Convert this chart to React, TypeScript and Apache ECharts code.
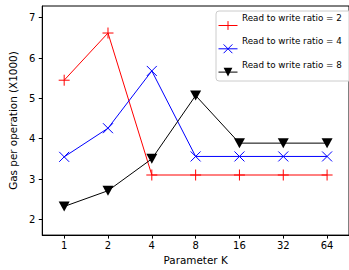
import React, { useEffect, useRef } from "react";
import * as echarts from "echarts";

const categories = ["1", "2", "4", "8", "16", "32", "64"];
const ratio2 = [5.45, 6.62, 3.1, 3.1, 3.1, 3.1, 3.1];
const ratio4 = [3.55, 4.26, 5.68, 3.56, 3.56, 3.56, 3.56];
const ratio8 = [2.32, 2.71, 3.5, 5.07, 3.89, 3.89, 3.89];
const yTicks = [2, 3, 4, 5, 6, 7];
const seriesNames = [
  "Read to write ratio = 2",
  "Read to write ratio = 4",
  "Read to write ratio = 8",
];

const PLUS = "path://M5,0L5,10M0,5L10,5";
const CROSS = "path://M0,0L10,10M10,0L0,10";
const TRI = "path://M0,0L10,0L5,9Z";

export default function App() {
  const ref = useRef<HTMLDivElement>(null);
  useEffect(() => {
    const chart = echarts.init(ref.current!, null, { renderer: "svg" });
    const font = "DejaVu Sans";
    const mk = (vals: number[]) => vals.map((v, i) => [i, v]);
    const legendCommon = {
      orient: "vertical",
      left: 216,
      itemGap: 9.3,
      itemWidth: 19,
      data: seriesNames,
    };
    chart.setOption({
      animation: false,
      textStyle: { fontFamily: font },
      grid: {
        left: 42,
        top: 6,
        width: 313,
        bottom: 31,
        show: true,
        borderColor: "#000",
        borderWidth: 1,
      },
      xAxis: {
        type: "value",
        min: -0.5,
        max: 6.5,
        name: "Parameter K",
        nameLocation: "middle",
        nameGap: 12,
        nameTextStyle: { fontSize: 10.4, color: "#000", fontFamily: font, verticalAlign: "top" },
        axisLine: { show: true, onZero: false, lineStyle: { color: "#000", width: 1 } },
        axisTick: {
          show: true,
          length: 3.5,
          lineStyle: { color: "#000" },
          customValues: categories.map((_, i) => i),
        },
        axisLabel: {
          fontSize: 10,
          color: "#000",
          fontFamily: font,
          margin: 5,
          customValues: categories.map((_, i) => i),
          formatter: (v: number) => categories[Math.round(v)] ?? "",
        },
        splitLine: { show: false },
      },
      yAxis: {
        type: "value",
        min: 1.61,
        max: 7.29,
        name: "Gas per operation (X1000)",
        nameLocation: "middle",
        nameGap: 15,
        nameTextStyle: { fontSize: 10.4, color: "#000", fontFamily: font },
        axisLine: { show: true, onZero: false, lineStyle: { color: "#000", width: 1 } },
        axisTick: {
          show: true,
          length: 3.5,
          lineStyle: { color: "#000" },
          customValues: yTicks,
        },
        axisLabel: {
          fontSize: 10,
          color: "#000",
          fontFamily: font,
          margin: 7,
          customValues: yTicks,
          formatter: (v: number) => String(Math.round(v)),
        },
        splitLine: { show: false },
      },
      legend: [
        {
          ...legendCommon,
          id: "legendText",
          top: 11,
          itemHeight: 14,
          padding: [0, 12, 9.4, 2],
          borderColor: "#cccccc",
          borderWidth: 1,
          borderRadius: 3,
          backgroundColor: "rgba(255,255,255,0.8)",
          icon: "rect",
          itemStyle: { color: "rgba(0,0,0,0)", borderWidth: 0, opacity: 0 },
          lineStyle: { opacity: 0 },
          textStyle: {
            fontSize: 8.75,
            fontFamily: font,
            color: "#000",
            lineHeight: 14,
          },
        },
        {
          ...legendCommon,
          id: "legendIcons",
          top: 18.5,
          itemHeight: 11,
          padding: [0, 0, 0, 2],
          formatter: () => " ",
          lineStyle: { width: 1 },
          itemStyle: { borderWidth: 1 },
          textStyle: { fontSize: 8.75, fontFamily: font, lineHeight: 14 },
        },
      ],
      series: [
        {
          name: seriesNames[0],
          type: "line",
          data: mk(ratio2),
          symbol: PLUS,
          symbolSize: 11,
          lineStyle: { color: "#ff0000", width: 1 },
          itemStyle: { color: "#ff0000", borderColor: "#ff0000", borderWidth: 1 },
          z: 2,
        },
        {
          name: seriesNames[1],
          type: "line",
          data: mk(ratio4),
          symbol: CROSS,
          symbolSize: 10,
          lineStyle: { color: "#0000ff", width: 1 },
          itemStyle: { color: "#0000ff", borderColor: "#0000ff", borderWidth: 1 },
          z: 3,
        },
        {
          name: seriesNames[2],
          type: "line",
          data: mk(ratio8),
          symbol: TRI,
          symbolSize: [11, 10],
          lineStyle: { color: "#000000", width: 1 },
          itemStyle: { color: "#000000", borderWidth: 0 },
          z: 4,
        },
      ],
    });
    return () => chart.dispose();
  }, []);
  return <div ref={ref} style={{ width: 349, height: 270, position: "absolute", left: 0, top: 0 }} />;
}
